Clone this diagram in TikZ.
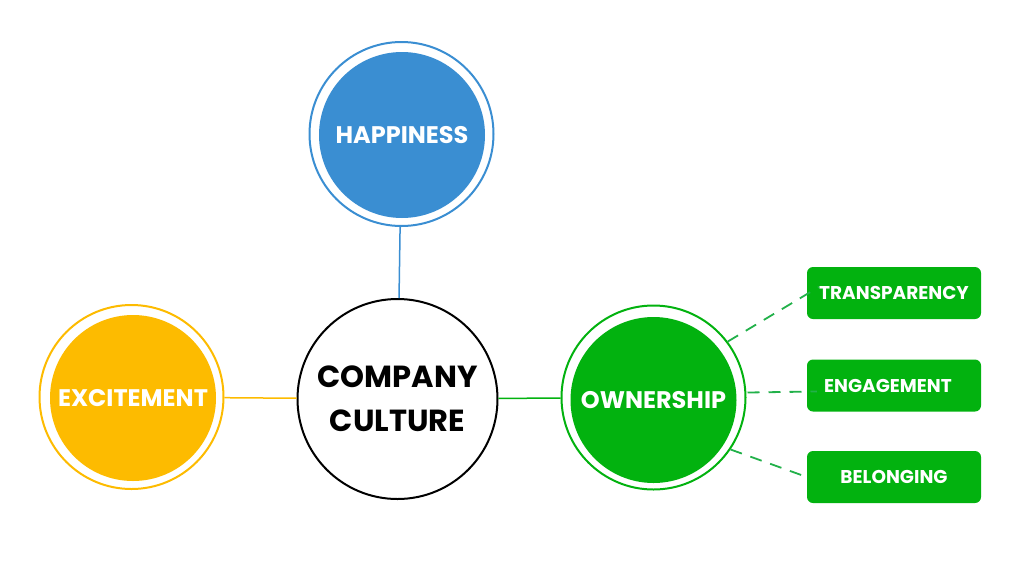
\documentclass[tikz,border=0pt]{standalone}
\usepackage{fontspec}
\setmainfont{Poppins}[BoldFont={Poppins Bold}]
\usetikzlibrary{calc}
\definecolor{hblue}{HTML}{3A8ED2}
\definecolor{xyellow}{HTML}{FDBB00}
\definecolor{ogreen}{HTML}{02B20F}
\definecolor{dgreen}{HTML}{22B14A}
\tikzset{
  ring/.style={circle,draw=#1,line width=2pt,minimum size=184pt,inner sep=0pt},
  core/.style={circle,fill=#1,minimum size=166pt,inner sep=0pt,text=white,font=\bfseries\fontsize{24}{28}\selectfont},
  tagbox/.style={rectangle,rounded corners=6pt,fill=ogreen,minimum width=174pt,minimum height=52pt,inner sep=0pt,text=white,font=\bfseries\fontsize{18.5}{22}\selectfont},
  link/.style={line width=1.5pt,draw=#1},
  dlink/.style={line width=1.8pt,draw=dgreen,dash pattern=on 12pt off 9pt},
}
\begin{document}
\begin{tikzpicture}[x=1pt,y=-1pt]
\useasboundingbox (0,0) rectangle (1021,574);
% center
\node[circle,draw=black,line width=2pt,minimum size=200pt,inner sep=0pt,align=center,font=\bfseries\fontsize{30.5}{44}\selectfont] (cc) at (397.5,399) {COMPANY\\CULTURE};
% happiness
\node[ring=hblue] (hap) at (401.5,134) {};
\node[core=hblue] (hapin) at (402,135) {HAPPINESS};
% excitement
\node[ring=xyellow] (exc) at (131.5,397) {};
\node[core=xyellow] (excin) at (133,398) {EXCITEMENT};
% ownership
\node[ring=ogreen] (own) at (653.5,397.5) {};
\node[core=ogreen] (ownin) at (653.5,400) {OWNERSHIP};
% boxes
\node[tagbox] (tr) at (894,293) {TRANSPARENCY};
\node[tagbox] (eng) at (894,385.5) {\hspace*{-12pt}ENGAGEMENT};
\node[tagbox] (bel) at (894,477) {BELONGING};
% connectors
\draw[link=hblue] (hap) -- (cc);
\draw[link=xyellow] (exc) -- (cc);
\draw[link=ogreen] (cc) -- (own);
\draw[dlink] (own.37) -- ($(tr.west)+(12,-6)$);
\draw[dlink] ($(own.east)+(1,-5)$) -- ($(eng.west)+(10,6)$);
\draw[dlink] (own.-34) -- (bel.west);
\end{tikzpicture}
\end{document}
